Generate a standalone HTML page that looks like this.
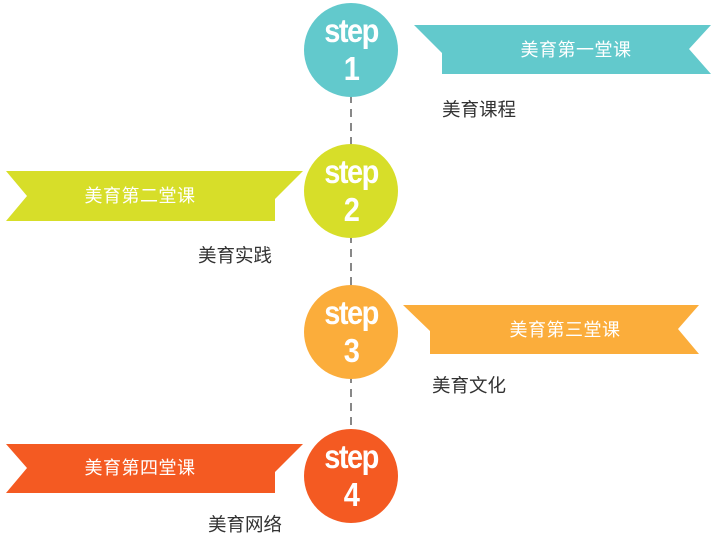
<!DOCTYPE html>
<html><head><meta charset="utf-8"><style>
html,body{margin:0;padding:0;background:#fff;width:721px;height:544px;overflow:hidden}
svg text{font-family:"Liberation Sans","Noto Sans CJK SC",sans-serif}
.st{font-weight:bold;font-size:29px;fill:#fff;text-anchor:middle;letter-spacing:-1.5px}
.bn{font-size:18px;fill:#fff;text-anchor:middle;letter-spacing:0.5px}
.lb{font-size:18.5px;fill:#333}
</style></head><body>
<svg width="721" height="544" viewBox="0 0 721 544">
<line x1="351" y1="95" x2="351" y2="432" stroke="#888" stroke-width="2" stroke-dasharray="8,6"/>
<!-- 1 -->
<polygon points="414,25 711,25 689,49 711,74 442,74 442,53" fill="#62C9CC"/>
<text class="bn" x="576" y="56">美育第一堂课</text>
<circle cx="351" cy="50" r="47" fill="#62C9CC"/>
<g transform="translate(351,42) scale(1,1.15)"><text class="st" x="0" y="0">step</text></g>
<g transform="translate(351,80) scale(1,1.15)"><text class="st" x="0" y="0">1</text></g>
<text class="lb" x="442" y="116">美育课程</text>
<!-- 2 -->
<polygon points="6,171 303,171 275,199 275,221 6,221 27,196" fill="#D7DE29"/>
<text class="bn" x="140" y="202">美育第二堂课</text>
<circle cx="351" cy="191" r="47" fill="#D7DE29"/>
<g transform="translate(351,183) scale(1,1.15)"><text class="st" x="0" y="0">step</text></g>
<g transform="translate(351,221) scale(1,1.15)"><text class="st" x="0" y="0">2</text></g>
<text class="lb" x="198" y="262">美育实践</text>
<!-- 3 -->
<polygon points="403,305 699,305 678,329 699,354 430,354 430,331" fill="#FBAD3B"/>
<text class="bn" x="565" y="336">美育第三堂课</text>
<circle cx="351" cy="332" r="47" fill="#FBAD3B"/>
<g transform="translate(351,324) scale(1,1.15)"><text class="st" x="0" y="0">step</text></g>
<g transform="translate(351,362) scale(1,1.15)"><text class="st" x="0" y="0">3</text></g>
<text class="lb" x="432" y="392">美育文化</text>
<!-- 4 -->
<polygon points="6,444 303,444 275,472 275,493 6,493 27,468" fill="#F45A22"/>
<text class="bn" x="140" y="474">美育第四堂课</text>
<circle cx="351" cy="476" r="47" fill="#F45A22"/>
<g transform="translate(351,468) scale(1,1.15)"><text class="st" x="0" y="0">step</text></g>
<g transform="translate(351,506) scale(1,1.15)"><text class="st" x="0" y="0">4</text></g>
<text class="lb" x="208" y="531">美育网络</text>
</svg>
</body></html>
